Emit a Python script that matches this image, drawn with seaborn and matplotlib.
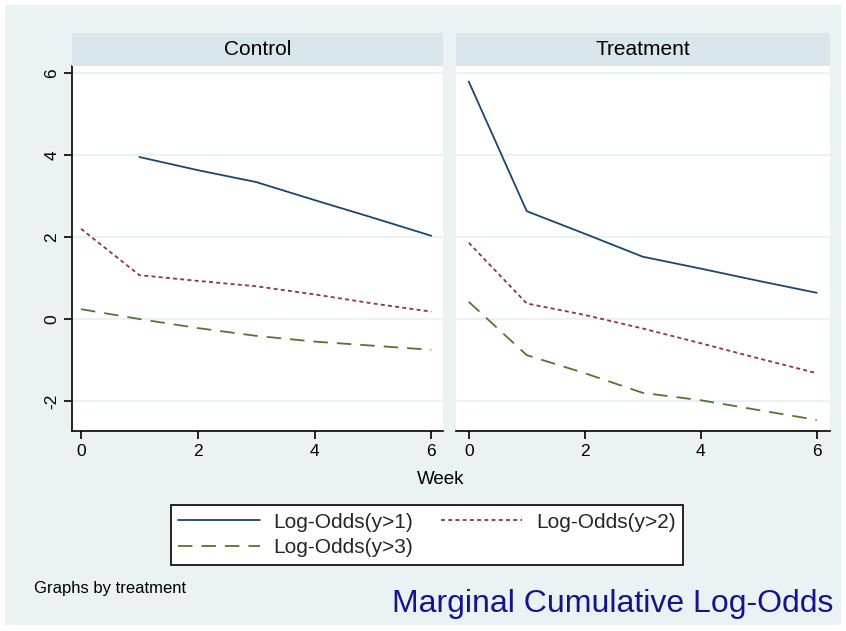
import numpy as np
import pandas as pd
import matplotlib
matplotlib.use("Agg")
import matplotlib.pyplot as plt
from matplotlib.patches import Rectangle
from matplotlib.lines import Line2D
import seaborn as sns

sns.set_theme(style="white")
plt.rcParams['font.family'] = ['Liberation Sans', 'DejaVu Sans']
plt.rcParams['axes.unicode_minus'] = False

weeks = [0, 1, 2, 3, 4, 5, 6]
panels = ["Control", "Treatment"]
series = ["Log-Odds(y>1)", "Log-Odds(y>2)", "Log-Odds(y>3)"]

control_y1 = [np.nan, 3.95, 3.63, 3.34, 2.90, 2.47, 2.03]
control_y2 = [2.20, 1.07, 0.93, 0.80, 0.60, 0.38, 0.18]
control_y3 = [0.24, 0.00, -0.22, -0.41, -0.55, -0.65, -0.75]

treat_y1 = [5.79, 2.63, 2.08, 1.52, 1.23, 0.93, 0.64]
treat_y2 = [1.86, 0.38, 0.10, -0.23, -0.59, -0.96, -1.32]
treat_y3 = [0.42, -0.88, -1.32, -1.80, -1.98, -2.22, -2.46]

yticks = [-2, 0, 2, 4, 6]
xticks = [0, 2, 4, 6]

rows = []
for panel, vals in zip(panels, [(control_y1, control_y2, control_y3),
                                (treat_y1, treat_y2, treat_y3)]):
    for s, v in zip(series, vals):
        for w, val in zip(weeks, v):
            rows.append({"treatment": panel, "series": s, "week": w, "value": val})
df = pd.DataFrame(rows)

colors = {series[0]: "#1A476F", series[1]: "#90353B", series[2]: "#55752F"}
dashes = {series[0]: "", series[1]: (2.2, 1.8), series[2]: (8, 5)}

BG = "#EAF2F3"
STRIP = "#D9E6EB"
W, H = 846, 631
fig = plt.figure(figsize=(W / 100, H / 100), dpi=100)
fig.patch.set_facecolor("white")
fig.patches.append(Rectangle((5 / W, 6 / H), 836 / W, 620 / H, transform=fig.transFigure,
                             facecolor=BG, edgecolor="none", zorder=-10))

axes_px = [(71.7, 443.0, (-0.16, 6.2)), (456.0, 830.0, (-0.22, 6.23))]
top_px, bot_px = 66.0, 431.0
for i, (panel, (x0, x1, xl)) in enumerate(zip(panels, axes_px)):
    ax = fig.add_axes([x0 / W, (H - bot_px) / H, (x1 - x0) / W, (bot_px - top_px) / H])
    ax.set_facecolor("white")
    sub = df[df.treatment == panel]
    sns.lineplot(data=sub, x="week", y="value", hue="series", style="series",
                 palette=colors, dashes=dashes, ax=ax, legend=False, linewidth=1.3)
    ax.set_xlim(*xl)
    ax.set_ylim(-2.73, 6.17)
    ax.set_yticks(yticks)
    ax.set_xticks(xticks)
    for yt in yticks:
        ax.axhline(yt, color=BG, lw=1.6, zorder=0)
    ax.set_xlabel("")
    ax.set_ylabel("")
    for sp in ["top", "right"]:
        ax.spines[sp].set_visible(False)
    ax.spines["bottom"].set_color("black")
    ax.spines["bottom"].set_linewidth(1.2)
    ax.tick_params(axis="x", direction="out", length=6, width=1.2, color="black",
                   labelsize=12.5, pad=3, bottom=True, labelcolor="black")
    if i == 0:
        ax.spines["left"].set_color("black")
        ax.spines["left"].set_linewidth(1.2)
        ax.tick_params(axis="y", direction="out", length=6, width=1.2, color="black",
                       labelsize=12.5, pad=3, left=True, labelcolor="black")
        for lab in ax.get_yticklabels():
            lab.set_rotation(90)
            lab.set_va("center")
    else:
        ax.spines["left"].set_visible(False)
        ax.tick_params(axis="y", left=False, labelleft=False)
    # strip header
    sax = fig.add_axes([x0 / W, (H - top_px) / H, (x1 - x0) / W, 33 / H])
    sax.set_facecolor(STRIP)
    sax.set_xticks([])
    sax.set_yticks([])
    for sp in sax.spines.values():
        sp.set_visible(False)
    sax.text(0.5, 0.5, panel, ha="center", va="center", fontsize=15, color="black",
             transform=sax.transAxes)

fig.text(441 / W, 1 - 480 / H, "Week", ha="center", va="center", fontsize=13.5, color="black")

handles = [Line2D([], [], color=colors[s], lw=1.3,
                  linestyle=(0, dashes[s]) if dashes[s] else "-") for s in series]
order = [0, 2, 1]
leg = fig.legend([handles[k] for k in order], [series[k] for k in order],
                 loc="center", bbox_to_anchor=(427 / W, 1 - 535 / H), ncol=2,
                 fontsize=15, frameon=True, fancybox=False, edgecolor="black",
                 facecolor="white", framealpha=1, handlelength=3.9, handletextpad=0.65,
                 columnspacing=1.35, borderpad=0.38, labelspacing=0.33, borderaxespad=0)
leg.get_frame().set_linewidth(1.2)

fig.text(34 / W, 1 - 589 / H, "Graphs by treatment", ha="left", va="center", fontsize=12,
         color="black")
fig.text(833 / W, 1 - 604 / H, "Marginal Cumulative Log-Odds", ha="right", va="center",
         fontsize=23, color="#14148C")

fig.savefig("out.png", dpi=100)
